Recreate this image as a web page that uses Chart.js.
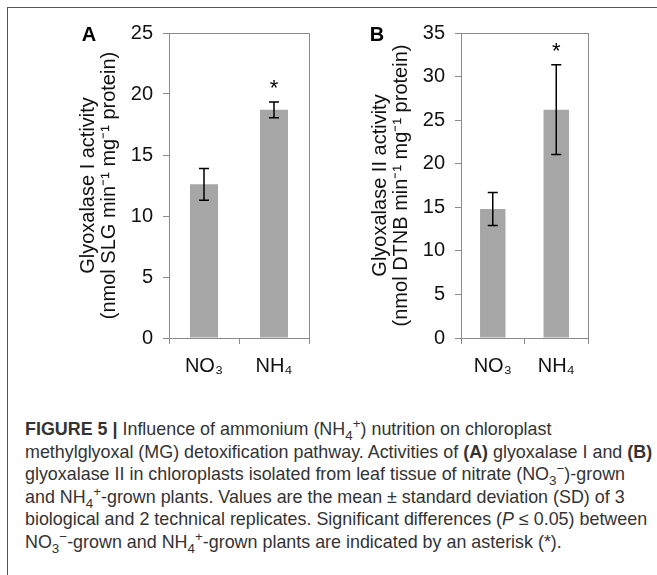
<!DOCTYPE html>
<html>
<head>
<meta charset="utf-8">
<script src="https://cdn.jsdelivr.net/npm/chart.js@4.4.0/dist/chart.umd.min.js"></script>
<style>
  body { margin: 0; background: #fff; width: 657px; height: 575px; overflow: hidden; position: relative; font-family: "Liberation Sans", Arial, sans-serif; }
  .frame { position: absolute; left: 7px; top: 7px; width: 700px; height: 600px; border-top: 1px solid #555; border-left: 1px solid #555; }
  .panel { position: absolute; top: 0; }
  .caption { position: absolute; left: 25px; top: 418px; font-size: 17.9px; line-height: 22.5px; color: #333; white-space: nowrap; }
  .caption sub, .caption sup { font-size: 0.75em; line-height: 0; }
</style>
</head>
<body>
<div class="frame"></div>
<div class="panel" style="left:0"><canvas id="chartA" width="330" height="400"></canvas></div>
<div class="panel" style="left:330px"><canvas id="chartB" width="327" height="400"></canvas></div>
<div class="caption">
<b>FIGURE 5 |</b> Influence of ammonium (NH<sub>4</sub><sup>+</sup>) nutrition on chloroplast<br>
methylglyoxal (MG) detoxification pathway. Activities of <b>(A)</b> glyoxalase I and <b>(B)</b><br>
glyoxalase II in chloroplasts isolated from leaf tissue of nitrate (NO<sub>3</sub><sup>−</sup>)-grown<br>
and NH<sub>4</sub><sup>+</sup>-grown plants. Values are the mean ± standard deviation (SD) of 3<br>
biological and 2 technical replicates. Significant differences (<i>P</i> ≤ 0.05) between<br>
NO<sub>3</sub><sup>−</sup>-grown and NH<sub>4</sub><sup>+</sup>-grown plants are indicated by an asterisk (*).
</div>
<script>
// values
const groups = ["NO₃", "NH₄"];
const glyI = [12.6, 18.7];
const glyISd = [1.3, 0.65];
const glyII = [14.8, 26.2];
const glyIISd = [1.9, 5.15];
const signif = [false, true];

const tickFont = { family: "Liberation Sans", size: 20 };
const axisGray = "#8a8a8a";

// error bars + asterisk + plot box
const extras = {
  id: "extras",
  afterDatasetsDraw(chart, args, opts) {
    const ctx = chart.ctx;
    const x = chart.scales.x, y = chart.scales.y;
    const data = chart.data.datasets[0].data;
    const area = chart.chartArea;
    ctx.save();
    ctx.strokeStyle = axisGray;
    ctx.lineWidth = 1;
    ctx.strokeRect(area.left + 0.5, area.top + 0.5, area.right - area.left, area.bottom - area.top);
    ctx.strokeStyle = "#000";
    ctx.lineWidth = 1.5;
    data.forEach((v, i) => {
      const cx = x.getPixelForValue(i);
      const hi = y.getPixelForValue(v + opts.sd[i]);
      const lo = y.getPixelForValue(v - opts.sd[i]);
      ctx.beginPath();
      ctx.moveTo(cx, hi); ctx.lineTo(cx, lo);
      ctx.moveTo(cx - 5, hi); ctx.lineTo(cx + 5, hi);
      ctx.moveTo(cx - 5, lo); ctx.lineTo(cx + 5, lo);
      ctx.stroke();
      if (opts.sig[i]) {
        ctx.fillStyle = "#000";
        ctx.font = "22px 'Liberation Sans'";
        ctx.textAlign = "center";
        ctx.textBaseline = "middle";
        ctx.fillText("*", cx, hi - 13);
      }
    });
    ctx.font = "bold 20px 'Liberation Sans'";
    ctx.fillStyle = "#000";
    ctx.textAlign = "center";
    ctx.textBaseline = "middle";
    ctx.fillText(opts.letter, opts.letterX, 35);
    ctx.restore();
  },
};

function makeChart(id, values, sd, title, max, axisW, padRight, titleX, letter, letterX) {
  var ctx = document.getElementById(id).getContext("2d");
  return new Chart(ctx, {
    type: "bar",
    data: {
      labels: groups,
      datasets: [{
        data: values,
        backgroundColor: "#a6a6a6",
        categoryPercentage: 1,
        barPercentage: 0.4,
      }],
    },
    options: {
      responsive: false,
      animation: false,
      layout: { padding: { left: 0, right: padRight, top: 33, bottom: 0 } },
      plugins: {
        legend: { display: false },
        tooltip: { enabled: false },
        extras: { sd: sd, sig: signif, letter: letter, letterX: letterX },
      },
      scales: {
        x: {
          offset: true,
          border: { color: axisGray },
          grid: { offset: true, drawOnChartArea: false, drawTicks: true, tickLength: 6, color: axisGray },
          ticks: { font: tickFont, color: "#111", padding: 10 },
          afterFit: (axis) => { axis.height = 62; },
        },
        y: {
          min: 0,
          max: max,
          border: { color: axisGray },
          grid: { drawOnChartArea: false, drawTicks: true, tickLength: 6, color: axisGray },
          ticks: { stepSize: 5, font: tickFont, color: "#111", padding: 10 },
          title: {
            display: true,
            text: title,
            font: { family: "Liberation Sans", size: 20, lineHeight: 21 / 20 },
            color: "#111",
            padding: { top: titleX - 10.5, bottom: 0 },
          },
          afterFit: (axis) => { axis.width = axisW; },
        },
      },
    },
    plugins: [extras],
  });
}

var chartA = makeChart("chartA", glyI, glyISd,
  ["Glyoxalase I activity", "(nmol SLG min⁻¹ mg⁻¹ protein)"], 25, 169, 21, 88, "A", 89);
var chartB = makeChart("chartB", glyII, glyIISd,
  ["Glyoxalase II activity", "(nmol DTNB min⁻¹ mg⁻¹ protein)"], 35, 131, 69, 50, "B", 47);
</script>
</body>
</html>
